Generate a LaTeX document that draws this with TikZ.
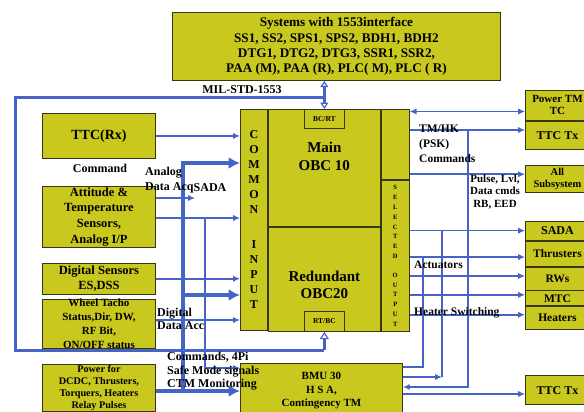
\documentclass[tikz,border=0pt]{standalone}
\usepackage{fontspec}
\setmainfont{Liberation Serif}
\usetikzlibrary{arrows.meta,positioning,calc}
\definecolor{BoxOlive}{RGB}{200,200,30}
\definecolor{BoxEdge}{RGB}{55,55,20}
\definecolor{BusBlue}{RGB}{70,100,200}
\newcommand{\fsz}[2]{\fontsize{#1}{#2}\selectfont\bfseries}
\tikzset{
  blk/.style={draw=BoxEdge,line width=0.9pt,fill=BoxOlive,align=center,
    inner sep=0pt,anchor=north west},
  lbl/.style={align=left,inner sep=0pt,font=\fsz{12}{13.5}},
  link/.style={draw=BusBlue,line width=1.6pt},
  sig/.style={link,-{Latex[length=2.4mm,width=2.2mm]}},
  dsig/.style={link,{Latex[length=2.4mm,width=2.2mm]}-{Latex[length=2.4mm,width=2.2mm]}},
  milbus/.style={draw=BusBlue,line width=3pt},
  hollowtip/.style={-{Triangle[open,length=2.6mm,width=3.2mm,line width=1.2pt]}},
  hollowboth/.style={{Triangle[open,length=2.2mm,width=2.8mm,line width=1.2pt]}-{Triangle[open,length=2.2mm,width=2.8mm,line width=1.2pt]}},
  fatsig/.style={draw=BusBlue,line width=4pt,-{Latex[length=4mm,width=4.2mm]}},
}

\begin{document}
\begin{tikzpicture}[x=1pt,y=-1pt]
  \useasboundingbox (0,0) rectangle (584,412);
  % 1553 systems
  \node[blk,minimum width=328pt,minimum height=68pt,font=\fsz{13.2}{15.3}] (sys) at (172,12)
    {Systems with 1553interface\\SS1, SS2, SPS1, SPS2, BDH1, BDH2\\
     DTG1, DTG2, DTG3, SSR1, SSR2,\\PAA (M), PAA (R), PLC( M), PLC ( R)};
  \node[font=\fsz{12}{14}] (lblmil) at (242,90) {MIL-STD-1553};

  % OBC block
  \node[blk,minimum width=27pt,minimum height=221pt,font=\fsz{12}{15}] (cin) at (240,109)
    {C\\O\\M\\M\\O\\N\\[20pt]I\\N\\P\\U\\T};
  \node[blk,minimum width=112pt,minimum height=117pt] (obcm) at (cin.north east) {};
  \node[blk,minimum width=112pt,minimum height=104pt] (obcr) at (obcm.south west) {};
  \node[blk,minimum width=28pt,minimum height=70pt] (seltop) at (obcm.north east) {};
  \node[blk,minimum width=28pt,minimum height=151pt,font=\fsz{6.5}{9.8}] (selout) at (seltop.south west)
    {S\\E\\L\\E\\C\\T\\E\\D\\[9pt]O\\U\\T\\P\\U\\T};
  \node[blk,anchor=north,minimum width=40pt,minimum height=19pt,font=\fsz{7.5}{9}] (bcrt) at (obcm.north) {BC/RT};
  \node[blk,anchor=south,minimum width=40pt,minimum height=20pt,font=\fsz{7.5}{9}] (rtbc) at (obcr.south) {RT/BC};
  \node[align=center,font=\fsz{15}{18}] (maintxt) at ($(obcm.center)+(0,-11.5)$) {Main\\OBC 10};
  \node[align=center,font=\fsz{15}{17}] (redtxt) at ($(obcr.center)+(0,5.5)$) {Redundant\\OBC20};

  % inputs
  \node[blk,minimum width=113pt,minimum height=45pt,font=\fsz{14}{16}] (ttcrx) at (42,113) {TTC(Rx)};
  \node[blk,below=27pt of ttcrx,minimum width=113pt,minimum height=61pt,font=\fsz{12.5}{15.7}] (att)
    {Attitude \&\\Temperature\\Sensors,\\Analog I/P};
  \node[blk,below=15pt of att,minimum width=113pt,minimum height=31pt,font=\fsz{12.5}{15}] (dig)
    {Digital Sensors\\ES,DSS};
  \node[blk,below=4pt of dig,minimum width=113pt,minimum height=49pt,font=\fsz{11}{14}] (wheel)
    {Wheel Tacho\\Status,Dir, DW,\\RF Bit,\\ON/OFF status};
  \node[blk,below=15pt of wheel,minimum width=113pt,minimum height=47pt,font=\fsz{10.2}{12}] (pwr)
    {Power for\\DCDC, Thrusters,\\Torquers, Heaters\\Relay Pulses};
  \node[blk,minimum width=162pt,minimum height=55pt,font=\fsz{11}{13.5}] (bmu) at (240,363)
    {BMU 30\\H S A,\\Contingency TM};

  % outputs
  \node[blk,minimum width=64pt,minimum height=30pt,font=\fsz{11}{12}] (pwrtm) at (525,90) {Power TM\\TC};
  \node[blk,below=0pt of pwrtm,minimum width=64pt,minimum height=28pt,font=\fsz{12}{14}] (ttctx) {TTC Tx};
  \node[blk,below=15pt of ttctx,minimum width=64pt,minimum height=27pt,font=\fsz{10.5}{12}] (allsub) {All\\Subsystem};
  \node[blk,below=28pt of allsub,minimum width=64pt,minimum height=19pt,font=\fsz{12}{14}] (sada) {SADA};
  \node[blk,below=0pt of sada,minimum width=64pt,minimum height=25pt,font=\fsz{11.5}{14}] (thr) {Thrusters};
  \node[blk,below=0pt of thr,minimum width=64pt,minimum height=23pt,font=\fsz{11.5}{14}] (rws) {RWs};
  \node[blk,below=0pt of rws,minimum width=64pt,minimum height=15pt,font=\fsz{11.5}{14}] (mtc) {MTC};
  \node[blk,below=0pt of mtc,minimum width=64pt,minimum height=23pt,font=\fsz{11.5}{14}] (heat) {Heaters};
  \node[blk,below=45pt of heat,minimum width=64pt,minimum height=29pt,font=\fsz{12}{14}] (ttcb) {TTC Tx};

  % MIL-STD-1553 bus
  \coordinate (bustl) at (15,98);
  \coordinate (busbl) at (15,350);
  \draw[milbus] (rtbc.south |- busbl) -- (busbl) -- (bustl) -- (bustl -| bcrt.north);
  \draw[milbus,hollowboth] (sys.south -| bcrt.north) -- (bcrt.north);
  \draw[milbus,hollowtip] (rtbc.south |- busbl) -- (rtbc.south);

  % left side
  \draw[sig] (ttcrx) -- (ttcrx -| cin.west);
  \coordinate (sadaend) at (195,198);
  \draw[sig] (att.east |- sadaend) -- (sadaend);
  \coordinate (atttap) at (205,218);
  \coordinate (cmdtap) at (205,368);
  \draw[sig] (att.east |- atttap) -- (atttap -| cin.west);
  \draw[sig] (atttap) -- (cmdtap) -- (cmdtap -| bmu.west);
  \draw[sig] (dig) -- (dig -| cin.west);
  \draw[sig] ([yshift=4pt]wheel.east) -- ([yshift=4pt]wheel.east -| cin.west);
  \coordinate (fattop) at (183,163);
  \coordinate (fatmid) at (183,295);
  \coordinate (fatbot) at (183,391);
  \draw[fatsig] (pwr.east |- fatbot) -- (fatbot -| bmu.west);
  \draw[fatsig] (fatbot) -- (fattop) -- (fattop -| cin.west);
  \draw[fatsig] (fatmid) -- (fatmid -| cin.west);

  % right side
  \coordinate (tcline) at ([yshift=-6pt]pwrtm.west);
  \draw[dsig] (seltop.east |- tcline) -- (tcline);
  \coordinate (tmhk) at (468,130);
  \draw[sig] (seltop.east |- tmhk) -- (tmhk -| ttctx.west);
  \coordinate (cmdline) at ([yshift=4.5pt]allsub.west);
  \draw[sig] (seltop.east |- cmdline) -- (cmdline);
  \draw[sig] (selout.east |- sada) -- (sada.west);
  \coordinate (thrin) at ([yshift=-3.5pt]thr.west);
  \draw[sig] (selout.east |- thrin) -- (thrin);
  \coordinate (rwsin) at ([yshift=2.5pt]rws.west);
  \draw[sig] (selout.east |- rwsin) -- (rwsin);
  \coordinate (mtcin) at ([yshift=3.5pt]mtc.west);
  \draw[sig] (selout.east |- mtcin) -- (mtcin);
  \coordinate (heatin) at ([yshift=3.5pt]heat.west);
  \draw[sig] (selout.east |- heatin) -- (heatin);

  % BMU links
  \coordinate (j1) at (423,367);
  \coordinate (j2) at (442,377);
  \coordinate (j3) at (468,387);
  \draw[link] (bmu.east |- j1) -- (j1) -- (j1 |- thrin);
  \draw[sig] (bmu.east |- j2) -- (j2);
  \draw[link] (j2) -- (j2 |- sada);
  \draw[sig] (tmhk) -- (j3) -- (bmu.east |- j3);
  \draw[sig] ([yshift=-3pt]bmu.east) -- ([yshift=-3pt]bmu.east -| ttcb.west);

  % labels
  \node[lbl] (lblcmd) at (100,168) {Command};
  \node[lbl,anchor=west,font=\fsz{12}{15}] (lblana) at (145,180.5) {Analog\\Data Acq};
  \node[lbl] (lblsada) at (210,188) {SADA};
  \node[lbl,anchor=west] (lbldig) at (157,319) {Digital\\Data Acc};
  \node[lbl,anchor=west] (lblbmu) at (167,371.5) {Commands, 4Pi\\Safe Mode signals\\CTM Monitoring};
  \node[lbl,anchor=west,font=\fsz{11.5}{15}] (lbltm) at (419,144) {TM/HK\\(PSK)\\Commands};
  \node[lbl,align=center,font=\fsz{11}{12.5}] (lblpulse) at (495,192) {Pulse, Lvl,\\Data cmds\\RB, EED};
  \node[lbl,anchor=west,font=\fsz{11.5}{13}] (lblact) at (414,265) {Actuators};
  \node[lbl,anchor=west,font=\fsz{11.5}{13}] (lblheat) at (414,313) {Heater Switching};
\end{tikzpicture}
\end{document}
